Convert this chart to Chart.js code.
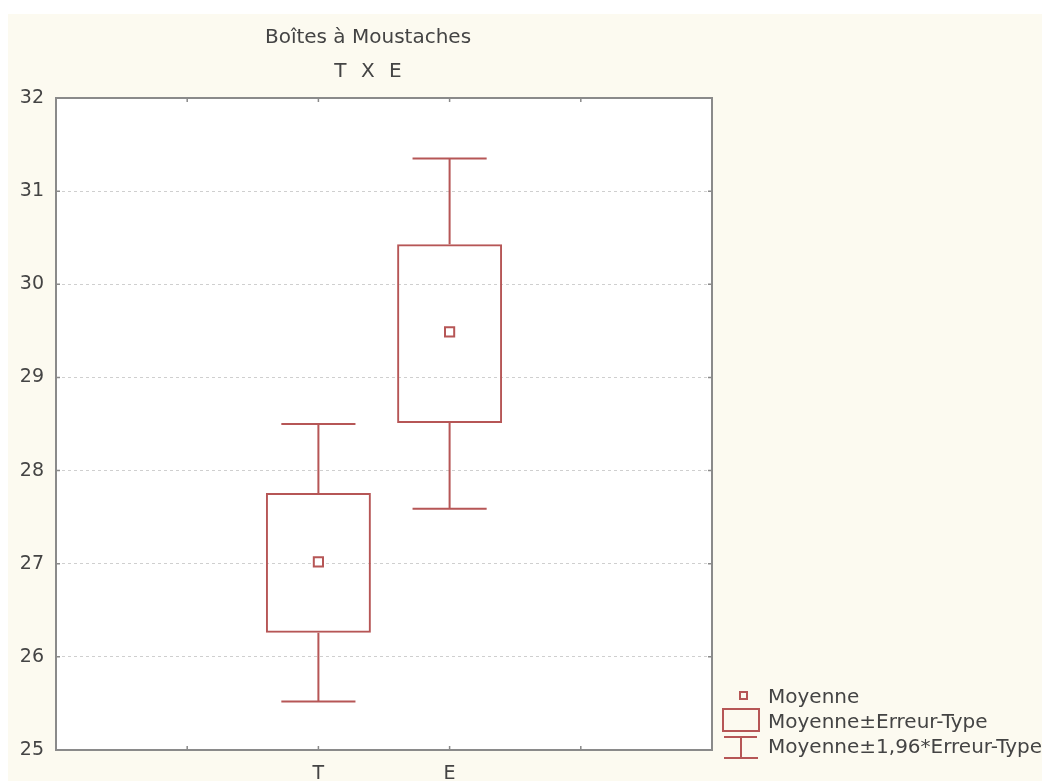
<!DOCTYPE html>
<html>
<head>
<meta charset="utf-8">
<script src="https://cdn.jsdelivr.net/npm/chart.js@4/dist/chart.umd.min.js"></script>
<style>
  html, body { margin: 0; padding: 0; background: #ffffff; }
  #wrap { position: absolute; left: 8px; top: 14px; width: 1034px; height: 767px; background: #fcfaf0; }
</style>
</head>
<body>
<div id="wrap"><canvas id="boxChart" width="1034" height="767"></canvas></div>
<script>
// Boîtes à Moustaches — T X E
const categories = ['T', 'E'];
const positions = [2, 3];
const means = [27.02, 29.49];
const seLow = [26.26, 28.51];   // Moyenne - Erreur-Type
const seHigh = [27.76, 30.43];  // Moyenne + Erreur-Type
const ciLow = [25.52, 27.59];   // Moyenne - 1,96*Erreur-Type
const ciHigh = [28.50, 31.35];  // Moyenne + 1,96*Erreur-Type
const yTicks = [25, 26, 27, 28, 29, 30, 31, 32];
const legendLabels = ['Moyenne', 'Moyenne±Erreur-Type', 'Moyenne±1,96*Erreur-Type'];

const RED = '#b65656';
const FRAME = '#8a8a8a';
const TEXT = '#444444';
const capWidth = 0.565;

Chart.defaults.font.family = "'DejaVu Sans', sans-serif";
Chart.defaults.font.size = 19;
Chart.defaults.color = TEXT;

const decor = {
  id: 'decor',
  beforeDraw(chart) {
    const { ctx, chartArea: a } = chart;
    ctx.save();
    ctx.fillStyle = '#ffffff';
    ctx.fillRect(a.left, a.top, a.right - a.left, a.bottom - a.top);
    ctx.restore();
  },
  afterDatasetsDraw(chart) {
    const { ctx, scales: { x, y } } = chart;
    ctx.save();
    ctx.strokeStyle = RED;
    ctx.lineWidth = 2;
    positions.forEach((p, i) => {
      const cx = x.getPixelForValue(p);
      const l = x.getPixelForValue(p - capWidth / 2), r = x.getPixelForValue(p + capWidth / 2);
      [[seHigh[i], ciHigh[i]], [seLow[i], ciLow[i]]].forEach(([from, to]) => {
        const y0 = y.getPixelForValue(from), y1 = y.getPixelForValue(to);
        ctx.beginPath();
        ctx.moveTo(cx, y0); ctx.lineTo(cx, y1);
        ctx.moveTo(l, y1); ctx.lineTo(r, y1);
        ctx.stroke();
      });
    });
    ctx.restore();
  },
  afterDraw(chart) {
    const { ctx, chartArea: a, scales: { x, y } } = chart;
    ctx.save();
    // frame
    ctx.strokeStyle = FRAME;
    ctx.lineWidth = 2;
    ctx.strokeRect(a.left, a.top, a.right - a.left, a.bottom - a.top);
    // inner tick marks
    ctx.lineWidth = 1.5;
    ctx.beginPath();
    [1, 2, 3, 4].forEach(v => {
      const px = x.getPixelForValue(v);
      ctx.moveTo(px, a.top); ctx.lineTo(px, a.top + 4);
      ctx.moveTo(px, a.bottom); ctx.lineTo(px, a.bottom - 4);
    });
    yTicks.slice(1, -1).forEach(v => {
      const py = y.getPixelForValue(v);
      ctx.moveTo(a.left, py); ctx.lineTo(a.left + 4, py);
      ctx.moveTo(a.right, py); ctx.lineTo(a.right - 4, py);
    });
    ctx.stroke();

    // title
    ctx.fillStyle = TEXT;
    ctx.font = "20px 'DejaVu Sans'";
    ctx.textAlign = 'center';
    ctx.textBaseline = 'alphabetic';
    ctx.fillText('Boîtes à Moustaches', 360, 29);
    ctx.letterSpacing = '4px';
    ctx.fillText('T X E', 362, 63);
    ctx.letterSpacing = '0px';

    // legend
    const lx = a.right + 10;
    ctx.textAlign = 'left';
    legendLabels.forEach((t, i) => ctx.fillText(t, a.right + 56, a.bottom - 47 + i * 25));
    ctx.strokeStyle = RED;
    ctx.lineWidth = 2;
    ctx.strokeRect(lx + 18, a.bottom - 58, 7, 7);
    ctx.strokeRect(lx + 1, a.bottom - 41, 36, 22);
    ctx.beginPath();
    ctx.moveTo(lx + 2, a.bottom - 13); ctx.lineTo(lx + 35, a.bottom - 13);
    ctx.moveTo(lx + 19, a.bottom - 13); ctx.lineTo(lx + 19, a.bottom + 8);
    ctx.moveTo(lx + 2, a.bottom + 8); ctx.lineTo(lx + 36, a.bottom + 8);
    ctx.stroke();
    ctx.restore();
  }
};

new Chart(document.getElementById('boxChart'), {
  type: 'bar',
  data: {
    datasets: [
      {
        label: 'Moyenne±Erreur-Type',
        data: positions.map((p, i) => ({ x: p, y: [seLow[i], seHigh[i]] })),
        backgroundColor: 'rgba(0,0,0,0)',
        borderColor: RED,
        borderWidth: 2,
        borderSkipped: false,
        barPercentage: 0.8,
        categoryPercentage: 1
      },
      {
        type: 'scatter',
        label: 'Moyenne',
        data: positions.map((p, i) => ({ x: p, y: means[i] })),
        pointStyle: 'rect',
        pointRadius: 6.5,
        borderColor: RED,
        borderWidth: 2,
        backgroundColor: '#ffffff'
      }
    ]
  },
  options: {
    responsive: false,
    animation: false,
    layout: { padding: { top: 84, right: 330, left: 0, bottom: 0 } },
    plugins: { legend: { display: false }, tooltip: { enabled: false }, title: { display: false } },
    scales: {
      x: {
        type: 'linear', min: 0, max: 5, offset: false,
        afterFit: s => { s.height = 31; },
        grid: { display: false, drawTicks: false },
        border: { display: false },
        ticks: {
          stepSize: 1, padding: 13, autoSkip: false, maxRotation: 0,
          callback: v => { const i = positions.indexOf(v); return i >= 0 ? categories[i] : ''; }
        }
      },
      y: {
        min: 25, max: 32,
        afterFit: s => { s.width = 48; },
        afterBuildTicks: s => { s.ticks = yTicks.map(v => ({ value: v })); },
        grid: {
          drawTicks: false,
          color: ctx => (ctx.tick && (ctx.tick.value === 25 || ctx.tick.value === 32)) ? 'rgba(0,0,0,0)' : '#cfcfcf',
          lineWidth: 1
        },
        border: { display: false, dash: [3, 3] },
        ticks: { padding: 12 }
      }
    }
  },
  plugins: [decor]
});
</script>
</body>
</html>
